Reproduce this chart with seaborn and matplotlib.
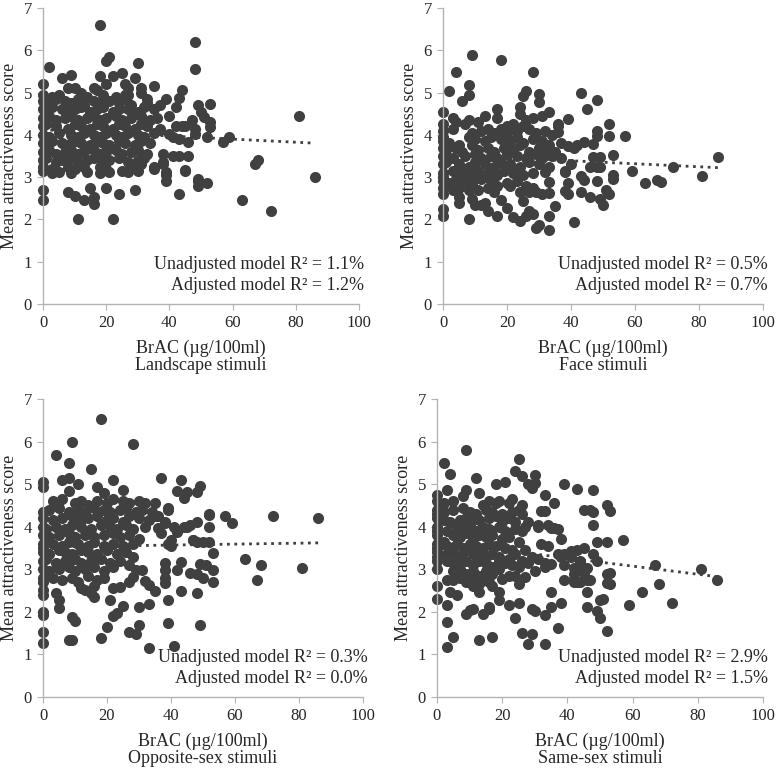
import numpy as np
import pandas as pd
import seaborn as sns
import matplotlib.pyplot as plt

# (BrAC, mean attractiveness)
landscape_pts = [
    (18, 6.6), (48, 6.2), (48, 5.55), (21, 5.85), (20, 5.75), (30, 5.7), (2, 5.6), (81, 4.45),
    (86, 3.0), (72, 2.2), (63, 2.45), (67, 3.3), (68, 3.4), (59, 3.95), (57, 3.82), (11, 2.0),
    (22, 2.0), (0, 2.45), (0, 2.7), (8, 2.65), (10, 2.55), (13, 2.45), (15, 2.75), (16, 2.53),
    (16, 2.36), (20, 2.75), (24, 2.6), (29, 2.7), (43, 2.6), (49, 2.9), (49, 2.8), (52, 2.85),
    (39, 2.9), (39, 3.06), (38, 3.32), (45, 3.14), (35, 3.2), (46, 3.5), (43, 3.5), (41, 3.5),
    (38, 3.55), (53, 4.74), (49, 4.7), (50, 4.54), (51, 4.42), (53, 4.3), (53, 4.19), (52, 3.95),
    (48, 4.15), (47, 4.36), (48, 4.03), (44, 5.05), (43, 4.88), (42, 4.66), (39, 4.84), (35, 5.15),
    (40, 4.45), (44, 4.2), (42, 4.2), (41, 3.95), (43, 3.9), (46, 3.83), (40, 4.03), (37, 4.11),
    (45, 4.22), (25, 5.46), (29, 5.35), (22, 5.4), (18, 5.4), (6, 5.34), (9, 5.41), (8, 5.11),
    (0, 5.21), (16, 5.11), (20, 5.2), (26, 5.21), (27, 5.1), (31, 5.11), (31, 5.0), (33, 4.85),
    (26, 4.95), (10, 5.11), (0, 3.15), (3, 3.1), (5, 3.12), (9, 3.1), (14, 3.12), (18, 3.1),
    (21, 3.12), (25, 3.15), (27, 3.12), (30, 3.15), (35, 3.24), (38, 3.35), (39, 3.12), (45, 3.16),
    (49, 2.96),
    (0, 4.95), (3, 4.9), (5, 4.95), (12, 5.0), (14, 4.9), (17, 5.05), (19, 4.95), (23, 4.9),
    (27, 4.95), (0, 4.8), (2, 4.75), (4, 4.85), (7, 4.8), (9, 4.75), (11, 4.85), (13, 4.7),
    (16, 4.8), (18, 4.75), (21, 4.8), (24, 4.75), (26, 4.85), (28, 4.7), (33, 4.75), (37, 4.7),
    (0, 4.6), (1, 4.55), (3, 4.65), (6, 4.6), (8, 4.55), (10, 4.6), (12, 4.65), (15, 4.55),
    (17, 4.6), (19, 4.65), (22, 4.55), (24, 4.6), (27, 4.6), (30, 4.55), (32, 4.65), (35, 4.6),
    (0, 4.4), (2, 4.45), (4, 4.35), (7, 4.4), (9, 4.45), (11, 4.35), (14, 4.4), (16, 4.45),
    (18, 4.35), (20, 4.4), (23, 4.45), (25, 4.35), (28, 4.4), (31, 4.45), (34, 4.35), (36, 4.4),
    (0, 4.2), (1, 4.25), (4, 4.2), (8, 4.15), (10, 4.25), (12, 4.2), (15, 4.15), (17, 4.25),
    (19, 4.2), (22, 4.15), (24, 4.25), (26, 4.2), (29, 4.15), (31, 4.25), (33, 4.2), (37, 4.15),
    (0, 4.0), (2, 3.95), (5, 4.05), (9, 4.0), (11, 3.95), (13, 4.05), (16, 4.0), (18, 3.95),
    (20, 4.05), (23, 4.0), (25, 3.95), (27, 4.05), (30, 4.0), (32, 3.95), (35, 4.05),
    (0, 3.8), (1, 3.75), (3, 3.85), (6, 3.8), (8, 3.75), (10, 3.85), (12, 3.8), (15, 3.75),
    (17, 3.85), (19, 3.8), (21, 3.75), (24, 3.85), (26, 3.8), (29, 3.75), (31, 3.85), (34, 3.8),
    (0, 3.6), (2, 3.65), (4, 3.55), (7, 3.6), (9, 3.65), (11, 3.55), (13, 3.6), (16, 3.65),
    (18, 3.55), (20, 3.6), (23, 3.65), (25, 3.55), (28, 3.6), (30, 3.65), (33, 3.55),
    (0, 3.4), (1, 3.45), (4, 3.35), (6, 3.4), (9, 3.45), (11, 3.35), (14, 3.4), (16, 3.45),
    (19, 3.35), (21, 3.4), (24, 3.45), (27, 3.35), (30, 3.4), (32, 3.45),
    (0, 3.25), (3, 3.2), (8, 3.25), (10, 3.2), (13, 3.25), (18, 3.25), (20, 3.2), (28, 3.25),
    (31, 3.3),
]

face_pts = [
    (9, 5.89), (18, 5.78), (28, 5.48), (4, 5.48), (2, 5.04), (8, 5.19), (8, 4.94), (6, 4.81),
    (43, 5.0), (48, 4.83), (45, 4.61), (26, 5.03), (25, 4.93), (30, 4.96), (30, 4.78), (0, 4.53),
    (3, 4.41), (57, 3.98), (52, 4.26), (52, 3.98), (53, 3.53), (53, 3.05), (53, 2.95), (59, 3.14),
    (63, 2.86), (67, 2.94), (68, 2.89), (72, 3.23), (81, 3.03), (86, 3.48), (51, 2.7), (52, 2.6),
    (49, 2.48), (50, 2.35), (46, 2.52), (43, 2.64), (48, 2.92), (43, 3.03), (44, 2.94), (41, 1.95),
    (33, 1.75), (29, 1.8), (30, 1.88), (24, 1.97), (22, 2.06), (26, 2.09), (27, 2.21), (28, 2.13),
    (25, 2.43), (20, 2.27), (17, 2.09), (18, 2.47), (14, 2.19), (12, 2.35), (13, 2.39), (10, 2.34),
    (9, 2.48), (8, 2.01), (5, 2.39), (5, 2.52), (0, 2.09), (0, 2.25), (0, 2.6), (33, 2.09),
    (35, 2.31), (29, 2.64), (31, 2.6), (33, 2.62), (33, 2.88), (24, 2.66), (38, 2.68), (39, 2.6),
    (39, 2.85), (32, 3.11), (38, 3.11), (36, 4.26), (36, 4.06), (39, 4.37), (48, 4.08), (48, 3.98),
    (44, 3.82), (42, 3.77), (41, 3.7), (39, 3.73), (47, 3.78), (46, 3.23), (48, 3.23), (49, 3.25),
    (47, 3.47), (49, 3.48), (40, 3.31), (38, 3.15),
    (0, 4.25), (4, 4.3), (8, 4.35), (11, 4.3), (13, 4.45), (17, 4.6), (17, 4.4), (20, 4.2),
    (22, 4.25), (24, 4.5), (24, 4.65), (26, 4.35), (28, 4.4), (31, 4.45), (33, 4.55), (36, 4.2),
    (0, 4.1), (3, 4.15), (7, 4.25), (9, 4.05), (12, 4.1), (14, 4.15), (16, 4.05), (18, 4.15),
    (20, 4.05), (23, 4.1), (25, 4.2), (27, 4.15), (29, 4.05), (32, 4.1), (34, 4.0),
    (0, 3.95), (0, 3.85), (2, 3.8), (5, 3.75), (8, 3.95), (10, 3.9), (13, 3.85), (15, 3.95),
    (18, 3.9), (21, 3.85), (23, 3.95), (25, 3.8), (28, 3.9), (31, 3.85), (33, 3.75), (37, 3.8),
    (0, 3.7), (1, 3.65), (4, 3.7), (6, 3.6), (9, 3.75), (11, 3.65), (14, 3.7), (16, 3.6),
    (19, 3.7), (22, 3.65), (24, 3.75), (27, 3.6), (30, 3.7), (32, 3.65), (35, 3.6),
    (0, 3.5), (3, 3.45), (7, 3.5), (10, 3.55), (12, 3.45), (15, 3.5), (17, 3.45), (20, 3.55),
    (23, 3.5), (26, 3.45), (29, 3.55), (31, 3.45), (34, 3.5), (37, 3.45),
    (0, 3.3), (1, 3.35), (5, 3.3), (8, 3.25), (10, 3.35), (13, 3.3), (16, 3.25), (18, 3.35),
    (21, 3.3), (24, 3.25), (27, 3.35), (30, 3.3), (33, 3.25),
    (0, 3.1), (0, 3.0), (3, 3.15), (6, 3.1), (9, 3.05), (11, 3.15), (14, 3.1), (17, 3.05),
    (19, 3.15), (22, 3.1), (25, 3.05), (28, 3.1),
    (0, 2.9), (2, 2.85), (4, 2.95), (7, 2.9), (9, 2.85), (12, 2.95), (15, 2.9), (17, 2.8),
    (20, 2.85), (23, 2.9), (26, 2.8), (28, 2.75),
    (0, 2.75), (3, 2.7), (5, 2.75), (8, 2.7), (11, 2.7), (14, 2.75), (16, 2.65), (21, 2.8),
    (27, 2.65),
]

opposite_pts = [
    (18, 6.53), (28, 5.94), (9, 5.99), (4, 5.69), (8, 5.49), (15, 5.35), (0, 5.04), (0, 4.94),
    (6, 5.1), (8, 5.14), (11, 5.0), (8, 4.85), (22, 5.1), (17, 4.94), (19, 4.8), (37, 5.15),
    (43, 5.1), (42, 4.85), (44, 4.67), (45, 4.82), (49, 4.96), (48, 4.82), (52, 4.3), (52, 4.0),
    (57, 4.25), (59, 4.08), (72, 4.25), (86, 4.2), (63, 3.23), (68, 3.09), (67, 2.75), (81, 3.04),
    (52, 3.63), (53, 3.39), (53, 2.98), (53, 2.71), (51, 3.1), (48, 2.89), (50, 2.79), (49, 3.12),
    (47, 3.69), (48, 3.65), (49, 1.68), (41, 1.2), (33, 1.14), (39, 1.73), (27, 1.53), (29, 1.47),
    (30, 1.68), (20, 1.65), (18, 1.39), (8, 1.34), (9, 1.34), (0, 1.28), (0, 1.53), (0, 1.93),
    (0, 1.99), (9, 1.89), (10, 1.79), (5, 2.08), (5, 2.28), (4, 2.44), (0, 2.4), (0, 2.51),
    (21, 2.28), (22, 1.9), (23, 1.98), (25, 2.14), (30, 2.12), (33, 2.18), (39, 2.28), (43, 2.49),
    (48, 2.44), (42, 2.98), (43, 3.18), (46, 2.91), (38, 2.67), (38, 2.79), (38, 2.98), (38, 3.14),
    (29, 2.98), (31, 2.98), (32, 2.72), (33, 2.63), (35, 2.5), (22, 2.55), (24, 2.59), (27, 2.69),
    (28, 2.83), (15, 2.44), (16, 2.34), (13, 2.51), (25, 4.86),
    (39, 4.45), (42, 3.88), (48, 4.1), (38, 4.08), (36, 3.96), (40, 3.69), (47, 3.69), (50, 3.65),
    (52, 4.28), (45, 4.0),
    (3, 4.6), (6, 4.65), (10, 4.55), (12, 4.6), (14, 4.5), (17, 4.6), (20, 4.55), (22, 4.65),
    (25, 4.6), (27, 4.55), (30, 4.6), (32, 4.55), (35, 4.55),
    (0, 4.35), (2, 4.4), (5, 4.45), (8, 4.35), (11, 4.4), (13, 4.35), (16, 4.45), (19, 4.4),
    (21, 4.35), (24, 4.4), (26, 4.45), (29, 4.35), (31, 4.4), (34, 4.35), (36, 4.25), (39, 4.4),
    (0, 4.2), (3, 4.15), (6, 4.2), (9, 4.25), (12, 4.15), (14, 4.2), (17, 4.25), (20, 4.15),
    (22, 4.2), (25, 4.1), (27, 4.25), (30, 4.2), (33, 4.15), (35, 4.25), (38, 4.1),
    (0, 4.0), (1, 3.95), (4, 4.0), (7, 3.95), (9, 4.05), (12, 4.0), (15, 3.95), (18, 4.05),
    (21, 4.0), (23, 3.95), (26, 4.05), (28, 3.95), (32, 4.0), (37, 3.85), (41, 4.0), (44, 4.0),
    (46, 4.05),
    (0, 3.8), (2, 3.75), (5, 3.8), (8, 3.85), (10, 3.75), (13, 3.8), (16, 3.75), (19, 3.8),
    (22, 3.85), (24, 3.75), (27, 3.8), (30, 3.7),
    (0, 3.6), (0, 3.5), (3, 3.6), (6, 3.55), (8, 3.65), (11, 3.6), (14, 3.55), (16, 3.65),
    (19, 3.55), (22, 3.6), (25, 3.55), (28, 3.6), (39, 3.6), (40, 3.55),
    (0, 3.4), (2, 3.35), (5, 3.45), (7, 3.4), (9, 3.35), (12, 3.45), (14, 3.4), (17, 3.35),
    (20, 3.45), (23, 3.35), (26, 3.4), (28, 3.3),
    (0, 3.2), (1, 3.25), (4, 3.15), (7, 3.2), (10, 3.25), (12, 3.15), (15, 3.2), (18, 3.25),
    (21, 3.15), (24, 3.2), (27, 3.1),
    (0, 3.0), (2, 2.95), (5, 3.0), (8, 3.05), (10, 2.95), (13, 3.0), (16, 3.05), (19, 2.95),
    (22, 3.05),
    (0, 2.8), (0, 2.7), (3, 2.8), (6, 2.75), (9, 2.8), (11, 2.7), (14, 2.85), (17, 2.75),
    (19, 2.8), (12, 2.55), (16, 2.6),
]

samesex_pts = [
    (9, 5.8), (2, 5.5), (4, 5.25), (3, 4.86), (12, 5.14), (13, 4.8), (9, 4.86), (8, 4.71),
    (25, 5.6), (24, 5.31), (26, 5.19), (30, 5.21), (28, 5.0), (29, 4.9), (30, 5.02), (18, 5.0),
    (21, 5.04), (33, 4.75), (36, 4.55), (39, 5.0), (43, 4.89), (48, 4.86), (45, 4.4), (47, 4.4),
    (48, 4.35), (48, 4.04), (52, 4.5), (53, 4.36), (49, 3.65), (52, 3.65), (57, 3.69), (48, 3.36),
    (49, 3.2), (44, 3.2), (53, 2.91), (53, 2.65), (51, 2.3), (47, 2.76), (46, 2.47), (46, 2.11),
    (49, 2.01), (50, 1.86), (52, 1.56), (59, 2.15), (63, 2.46), (67, 3.1), (68, 2.65), (72, 2.2),
    (81, 3.0), (86, 2.76), (42, 3.03), (42, 2.77), (43, 2.69), (38, 2.21), (37, 1.62), (35, 2.11),
    (35, 2.46), (33, 1.93), (33, 1.25), (29, 2.07), (30, 2.01), (29, 1.47), (28, 1.25), (26, 1.5),
    (24, 1.86), (25, 2.21), (22, 2.16), (19, 2.28), (17, 1.41), (16, 2.07), (16, 2.11), (14, 1.95),
    (13, 1.35), (9, 1.95), (10, 2.05), (11, 2.07), (5, 1.41), (3, 1.17), (3, 1.76), (3, 2.15),
    (0, 2.3), (0, 2.6), (4, 2.46), (6, 2.4), (3, 2.76), (13, 2.46), (19, 2.46), (17, 2.6),
    (20, 2.77), (22, 2.85), (25, 2.65), (27, 2.81), (30, 2.95), (33, 3.06), (35, 3.12), (39, 3.36),
    (41, 3.42), (38, 3.71), (36, 3.96), (35, 3.96), (44, 2.69), (45, 2.91), (46, 3.03), (33, 4.36),
    (32, 4.36), (31, 4.04),
    (41, 3.38), (38, 3.3), (44, 3.18), (45, 2.98), (42, 2.9), (39, 2.75), (42, 2.71), (46, 2.75),
    (50, 2.28), (52, 2.9), (52, 2.67),
    (0, 4.75), (0, 4.6), (2, 4.55), (5, 4.6), (14, 4.5), (16, 4.6), (18, 4.55), (19, 4.6),
    (22, 4.55), (23, 4.65), (25, 4.4), (26, 4.5),
    (0, 4.4), (0, 4.3), (2, 4.35), (5, 4.4), (8, 4.45), (10, 4.35), (12, 4.3), (15, 4.4),
    (17, 4.35), (20, 4.3), (23, 4.35), (26, 4.3),
    (0, 4.2), (2, 4.15), (4, 4.1), (7, 4.15), (9, 4.2), (11, 4.25), (13, 4.15), (16, 4.2),
    (18, 4.25), (20, 4.1), (22, 4.2), (24, 4.1), (27, 4.0), (28, 4.1), (31, 4.0), (34, 4.05),
    (37, 3.95),
    (0, 4.0), (0, 3.9), (3, 3.9), (6, 4.0), (8, 3.95), (10, 4.05), (12, 3.9), (14, 4.0),
    (16, 3.95), (19, 4.0), (21, 3.9), (24, 3.95), (26, 3.9),
    (0, 3.8), (2, 3.65), (5, 3.8), (7, 3.75), (9, 3.85), (11, 3.7), (13, 3.8), (15, 3.75),
    (17, 3.8), (20, 3.7), (22, 3.75), (25, 3.65),
    (0, 3.6), (0, 3.5), (3, 3.55), (6, 3.6), (8, 3.5), (10, 3.6), (12, 3.55), (14, 3.5),
    (16, 3.6), (18, 3.55), (21, 3.5), (23, 3.45), (27, 3.45), (29, 3.3), (32, 3.6), (34, 3.55),
    (0, 3.4), (0, 3.3), (3, 3.35), (5, 3.4), (7, 3.3), (9, 3.45), (11, 3.35), (13, 3.4),
    (15, 3.3), (17, 3.35), (19, 3.3), (22, 3.25), (24, 3.35), (26, 3.2), (28, 3.15), (31, 3.25),
    (33, 3.15),
    (0, 3.2), (0, 3.0), (3, 3.2), (5, 3.15), (7, 3.25), (9, 3.2), (11, 3.1), (13, 3.2),
    (15, 3.15), (17, 3.05), (19, 3.2), (21, 3.15), (23, 3.1), (25, 3.05), (37, 3.35), (39, 3.1),
    (41, 3.3), (43, 3.45), (45, 3.5),
    (5, 2.95), (7, 3.0), (9, 2.9), (11, 2.95), (13, 2.85), (15, 2.95), (17, 2.9), (19, 3.0),
    (24, 2.85),
    (5, 2.75), (7, 2.8), (9, 2.7), (11, 2.75), (13, 2.65), (15, 2.75), (16, 2.7), (11, 2.6),
]

panel_names = ["Landscape stimuli", "Face stimuli", "Opposite-sex stimuli", "Same-sex stimuli"]
unadjusted_r2 = ["1.1%", "0.5%", "0.3%", "2.9%"]
adjusted_r2 = ["1.2%", "0.7%", "0.0%", "1.5%"]

sns.set_style("ticks")
plt.rcParams['font.family'] = ['Liberation Serif', 'DejaVu Serif']

dot_color = "#404040"
axis_color = "#b3b3b3"

fig = plt.figure(figsize=(7.77, 7.69), dpi=100)
W, H = 777, 769
# axes boxes in pixels: left, right, y of 0, y of 7
boxes = [(43, 359, 304, 8), (443, 763, 304, 8), (43, 363, 697, 399), (437, 763, 697, 399)]
all_pts = [landscape_pts, face_pts, opposite_pts, samesex_pts]

for k in range(4):
    l, r, y0, y7 = boxes[k]
    ax = fig.add_axes([l / W, (H - y0) / H, (r - l) / W, (y0 - y7) / H])
    df = pd.DataFrame(all_pts[k], columns=["brac", "score"])

    # linear trend over the observed range
    slope, icpt = np.polyfit(df["brac"], df["score"], 1)
    xs = np.array([df["brac"].min(), df["brac"].max()])
    ax.plot(xs, icpt + slope * xs, linestyle=":", color=dot_color, linewidth=2, zorder=1)

    sns.scatterplot(data=df, x="brac", y="score", ax=ax, color=dot_color, s=64,
                    linewidth=0, alpha=1, clip_on=False, zorder=2)

    ax.set_xlim(0, 100)
    ax.set_ylim(0, 7)
    ax.set_xticks(range(0, 101, 20))
    ax.set_yticks(range(0, 8))
    ax.tick_params(direction="out", length=4, color=axis_color, labelsize=12, pad=4)
    for side in ["top", "right"]:
        ax.spines[side].set_visible(False)
    for side in ["left", "bottom"]:
        ax.spines[side].set_color(axis_color)
        ax.spines[side].set_linewidth(1)

    ax.set_xlabel("BrAC (\u00b5g/100ml)\n" + panel_names[k], fontsize=13, linespacing=1.05, labelpad=6)
    ax.set_ylabel("Mean attractiveness score", fontsize=13, labelpad=4)

    ax.text(101.5, 0.93, "Unadjusted model R\u00b2 = " + unadjusted_r2[k], ha="right", va="center", fontsize=13)
    ax.text(101.5, 0.44, "Adjusted model R\u00b2 = " + adjusted_r2[k], ha="right", va="center", fontsize=13)

fig.savefig("out.png", dpi=100)
